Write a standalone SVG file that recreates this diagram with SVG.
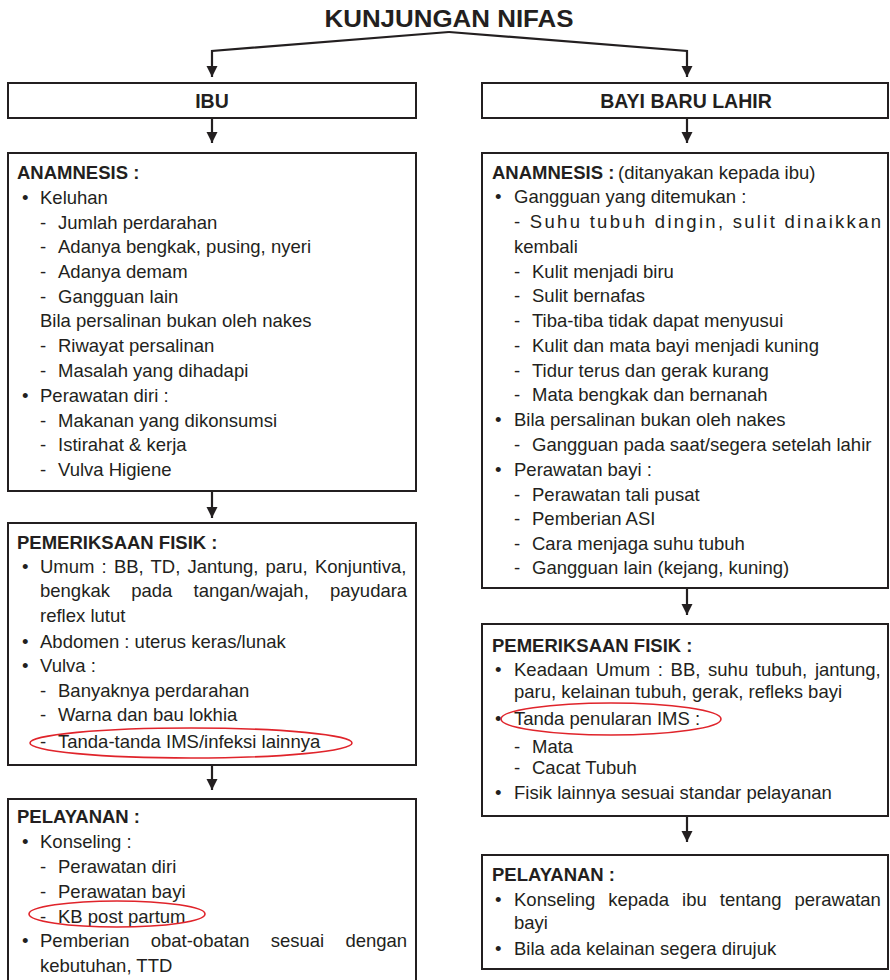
<svg xmlns="http://www.w3.org/2000/svg" width="890" height="980" viewBox="0 0 890 980">
<style>
.box{fill:#fff;stroke:#231f20;stroke-width:2}
.t{font-family:"Liberation Sans",Arial,sans-serif;font-size:18.5px;fill:#231f20}
.b{font-weight:bold}
.h{font-family:"Liberation Sans",Arial,sans-serif;font-weight:bold;font-size:19.5px;fill:#231f20;text-anchor:middle}
.ttl{font-family:"Liberation Sans",Arial,sans-serif;font-weight:bold;font-size:24px;fill:#231f20;text-anchor:middle}
.con{fill:none;stroke:#231f20;stroke-width:2.2}
.ring{fill:none;stroke:#e0242b;stroke-width:1.6}
</style>
<defs>
<marker id="ah" markerUnits="userSpaceOnUse" markerWidth="12" markerHeight="12" refX="11" refY="6" orient="auto">
<path d="M0,0.5 L11,6 L0,11.5 Z" fill="#231f20"/>
</marker>
</defs>
<rect width="890" height="980" fill="#fff"/>
<g id="title"><text class="ttl" x="449" y="27" textLength="249" lengthAdjust="spacingAndGlyphs">KUNJUNGAN NIFAS</text></g>
<g id="connectors">
<path class="con" d="M449,32 L212,51 L212,77" marker-end="url(#ah)"/>
<path class="con" d="M449,32 L687,51 L687,77" marker-end="url(#ah)"/>
<path class="con" d="M212,118 L212,143" marker-end="url(#ah)"/>
<path class="con" d="M687,118 L687,143" marker-end="url(#ah)"/>
<path class="con" d="M212,491 L212,518" marker-end="url(#ah)"/>
<path class="con" d="M212,765 L212,790" marker-end="url(#ah)"/>
<path class="con" d="M687,588 L687,615" marker-end="url(#ah)"/>
<path class="con" d="M687,816 L687,842" marker-end="url(#ah)"/>
</g>
<g id="ibu"><rect class="box" x="8" y="83" width="408" height="35"/><text class="h" x="212" y="108">IBU</text></g>
<g id="bayi"><rect class="box" x="482" y="83" width="406" height="35"/><text class="h" x="686" y="108">BAYI BARU LAHIR</text></g>
<g id="ibu-anamnesis">
<rect class="box" x="8" y="153" width="408" height="338"/>
<text class="t b" x="17" y="179">ANAMNESIS :</text>
<text class="t" x="22" y="204">•</text><text class="t" x="40" y="204">Keluhan</text>
<text class="t" x="40" y="229">-</text><text class="t" x="58" y="229">Jumlah perdarahan</text>
<text class="t" x="40" y="253">-</text><text class="t" x="58" y="253">Adanya bengkak, pusing, nyeri</text>
<text class="t" x="40" y="278">-</text><text class="t" x="58" y="278">Adanya demam</text>
<text class="t" x="40" y="303">-</text><text class="t" x="58" y="303">Gangguan lain</text>
<text class="t" x="40" y="327">Bila persalinan bukan oleh nakes</text>
<text class="t" x="40" y="352">-</text><text class="t" x="58" y="352">Riwayat persalinan</text>
<text class="t" x="40" y="377">-</text><text class="t" x="58" y="377">Masalah yang dihadapi</text>
<text class="t" x="22" y="402">•</text><text class="t" x="40" y="402">Perawatan diri :</text>
<text class="t" x="40" y="427">-</text><text class="t" x="58" y="427">Makanan yang dikonsumsi</text>
<text class="t" x="40" y="451">-</text><text class="t" x="58" y="451">Istirahat &amp; kerja</text>
<text class="t" x="40" y="476">-</text><text class="t" x="58" y="476">Vulva Higiene</text>
</g>
<g id="ibu-fisik">
<rect class="box" x="8" y="523" width="408" height="242"/>
<text class="t b" x="17" y="549">PEMERIKSAAN FISIK :</text>
<text class="t" x="22" y="573">•</text><text class="t" x="40" y="573" word-spacing="2">Umum : BB, TD, Jantung, paru, Konjuntiva,</text>
<text class="t" x="40" y="597" word-spacing="16.1">bengkak pada tangan/wajah, payudara</text>
<text class="t" x="40" y="622">reflex lutut</text>
<text class="t" x="22" y="648">•</text><text class="t" x="40" y="648">Abdomen : uterus keras/lunak</text>
<text class="t" x="22" y="672">•</text><text class="t" x="40" y="672">Vulva :</text>
<text class="t" x="40" y="697">-</text><text class="t" x="58" y="697">Banyaknya perdarahan</text>
<text class="t" x="40" y="721">-</text><text class="t" x="58" y="721">Warna dan bau lokhia</text>
<text class="t" x="40" y="748">-</text><text class="t" x="58" y="748">Tanda-tanda IMS/infeksi lainnya</text>
<ellipse class="ring" cx="191" cy="743" rx="161" ry="15"/>
</g>
<g id="ibu-pelayanan">
<rect class="box" x="8" y="799" width="408" height="200"/>
<text class="t b" x="17" y="823">PELAYANAN :</text>
<text class="t" x="22" y="848">•</text><text class="t" x="40" y="848">Konseling :</text>
<text class="t" x="40" y="873">-</text><text class="t" x="58" y="873">Perawatan diri</text>
<text class="t" x="40" y="898">-</text><text class="t" x="58" y="898">Perawatan bayi</text>
<text class="t" x="40" y="923">-</text><text class="t" x="58" y="923">KB post partum</text>
<ellipse class="ring" cx="117" cy="914" rx="88" ry="13"/>
<text class="t" x="22" y="947">•</text><text class="t" x="40" y="947" word-spacing="16.1">Pemberian obat-obatan sesuai dengan</text>
<text class="t" x="40" y="972">kebutuhan, TTD</text>
</g>
<g id="bayi-anamnesis">
<rect class="box" x="482" y="153" width="406" height="435"/>
<text class="t" y="179"><tspan class="b" x="492">ANAMNESIS :</tspan><tspan x="618">(ditanyakan kepada ibu)</tspan></text>
<text class="t" x="495" y="203">•</text><text class="t" x="514" y="203">Gangguan yang ditemukan :</text>
<text class="t" x="514" y="228" textLength="367" lengthAdjust="spacing">- Suhu tubuh dingin, sulit dinaikkan</text>
<text class="t" x="514" y="253">kembali</text>
<text class="t" x="514" y="278">-</text><text class="t" x="532" y="278">Kulit menjadi biru</text>
<text class="t" x="514" y="302">-</text><text class="t" x="532" y="302">Sulit bernafas</text>
<text class="t" x="514" y="327">-</text><text class="t" x="532" y="327">Tiba-tiba tidak dapat menyusui</text>
<text class="t" x="514" y="352">-</text><text class="t" x="532" y="352">Kulit dan mata bayi menjadi kuning</text>
<text class="t" x="514" y="377">-</text><text class="t" x="532" y="377">Tidur terus dan gerak kurang</text>
<text class="t" x="514" y="401">-</text><text class="t" x="532" y="401">Mata bengkak dan bernanah</text>
<text class="t" x="495" y="426">•</text><text class="t" x="514" y="426">Bila persalinan bukan oleh nakes</text>
<text class="t" x="514" y="451">-</text><text class="t" x="532" y="451">Gangguan pada saat/segera setelah lahir</text>
<text class="t" x="495" y="476">•</text><text class="t" x="514" y="476">Perawatan bayi :</text>
<text class="t" x="514" y="501">-</text><text class="t" x="532" y="501">Perawatan tali pusat</text>
<text class="t" x="514" y="525">-</text><text class="t" x="532" y="525">Pemberian ASI</text>
<text class="t" x="514" y="550">-</text><text class="t" x="532" y="550">Cara menjaga suhu tubuh</text>
<text class="t" x="514" y="574">-</text><text class="t" x="532" y="574">Gangguan lain (kejang, kuning)</text>
</g>
<g id="bayi-fisik">
<rect class="box" x="482" y="624" width="406" height="192"/>
<text class="t b" x="492" y="652">PEMERIKSAAN FISIK :</text>
<text class="t" x="495" y="676">•</text><text class="t" x="514" y="676" word-spacing="2.5">Keadaan Umum : BB, suhu tubuh, jantung,</text>
<text class="t" x="514" y="698">paru, kelainan tubuh, gerak, refleks bayi</text>
<text class="t" x="495" y="725">•</text><text class="t" x="514" y="725">Tanda penularan IMS :</text>
<ellipse class="ring" cx="611" cy="719" rx="110" ry="16"/>
<text class="t" x="514" y="753">-</text><text class="t" x="532" y="753">Mata</text>
<text class="t" x="514" y="774">-</text><text class="t" x="532" y="774">Cacat Tubuh</text>
<text class="t" x="495" y="799">•</text><text class="t" x="514" y="799">Fisik lainnya sesuai standar pelayanan</text>
</g>
<g id="bayi-pelayanan">
<rect class="box" x="482" y="855" width="406" height="114"/>
<text class="t b" x="492" y="881">PELAYANAN :</text>
<text class="t" x="495" y="906">•</text><text class="t" x="514" y="906" word-spacing="7.9">Konseling kepada ibu tentang perawatan</text>
<text class="t" x="514" y="929">bayi</text>
<text class="t" x="495" y="955">•</text><text class="t" x="514" y="955">Bila ada kelainan segera dirujuk</text>
</g>
</svg>
